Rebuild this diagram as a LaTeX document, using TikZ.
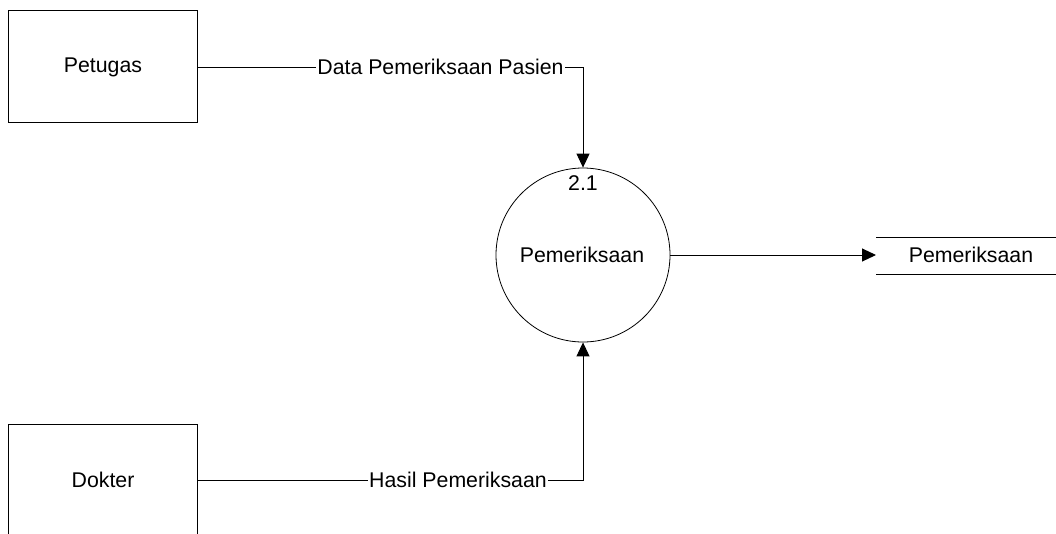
\documentclass[tikz,border=0pt]{standalone}
\usepackage{fontspec}
\setmainfont{Liberation Sans}
\usetikzlibrary{arrows.meta}
\begin{document}
\begin{tikzpicture}[x=1pt,y=-1pt,
  every node/.style={font=\fontsize{21.3}{25}\selectfont, inner sep=1.5pt},
  entity/.style={draw, line width=1pt, minimum width=189pt, minimum height=112pt},
  proc/.style={draw, line width=0.8pt, circle, minimum size=174pt},
  flow/.style={line width=1pt},
  arr/.style={flow, -{Triangle[length=14pt,width=13pt]}}]
\useasboundingbox (0,0) rectangle (1056,533);
\clip (0,0) rectangle (1056,533);
\node[entity] (pet) at (102.5,66) {};
\node (pettxt) at (103,67) {Petugas};
\node[entity, anchor=north west] (dok) at (8,424) {};
\node at (103,480) (doktxt) {Dokter};
\node[proc] (p) at (583,255) {};
\node (ptxt) at (582,255) {Pemeriksaan};
\node (pnum) at (583,183) {2.1};
\node (store) at (971,255) {Pemeriksaan};
\coordinate (stl) at (876,237);
\coordinate (str) at (1056,237);
\coordinate (sbl) at (876,274);
\coordinate (sbr) at (1056,274);
\draw[flow] (stl) -- (str);
\draw[flow] (sbl) -- (sbr);
\node (l1) at (440.5,67) {Data Pemeriksaan Pasien};
\node (l2) at (458,480) {Hasil Pemeriksaan};
\draw[flow] (pet.east |- l1) -- (l1.west);
\draw[arr] (l1.east) -| (p.north);
\draw[flow] (dok.east |- l2) -- (l2.west);
\draw[arr] (l2.east) -| (p.south);
\draw[arr] (p.east) -- (stl |- p.east);
\end{tikzpicture}
\end{document}
